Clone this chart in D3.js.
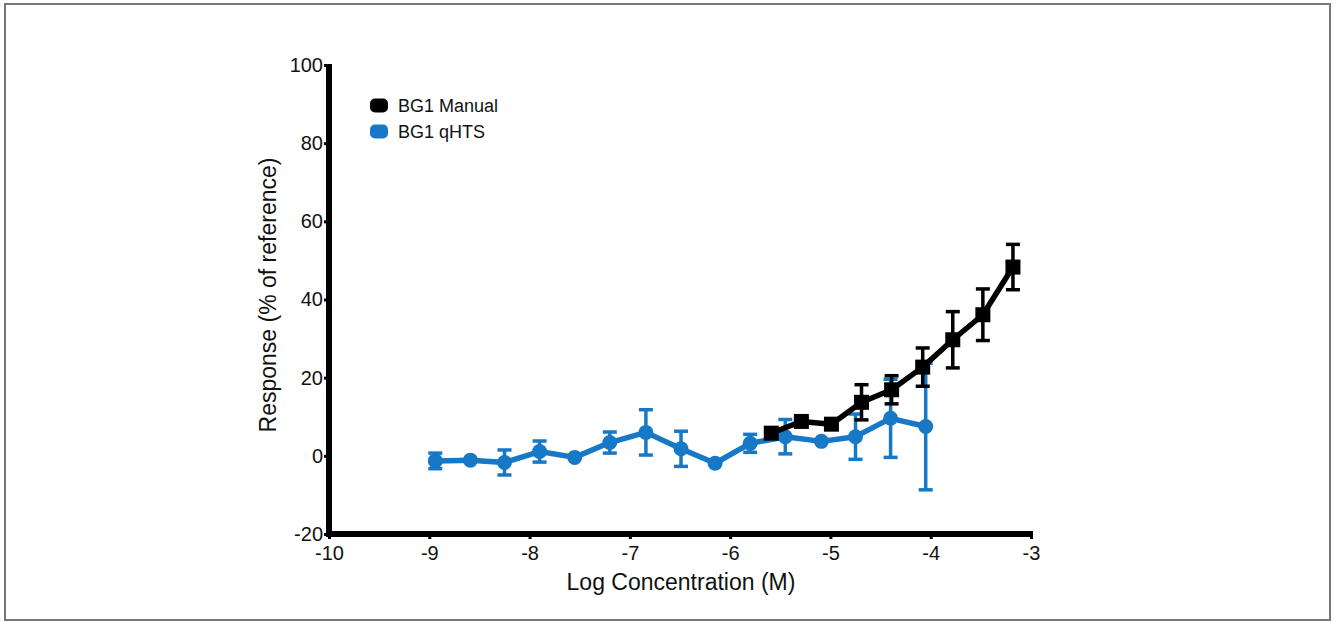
<!DOCTYPE html>
<html>
<head>
<meta charset="utf-8">
<script src="https://cdn.jsdelivr.net/npm/d3@7"></script>
<style>
  body { margin: 0; background: #fff; }
  svg { display: block; font-family: "Liberation Sans", Arial, sans-serif; }
</style>
</head>
<body>
<div id="chart"></div>
<script>
// data
const manualX = [-5.59, -5.29, -4.99, -4.69, -4.39, -4.08, -3.78, -3.48, -3.18];
const manualY = [5.8, 8.8, 8.1, 13.7, 16.9, 22.7, 29.7, 36.1, 48.3];
const manualErr = [0, 0.8, 0, 4.5, 3.6, 4.9, 7.2, 6.6, 5.8];

const qhtsX = [-8.94, -8.59, -8.25, -7.90, -7.55, -7.20, -6.84, -6.49, -6.15, -5.80, -5.45, -5.09, -4.75, -4.40, -4.05];
const qhtsY = [-1.3, -1.1, -1.7, 1.1, -0.4, 3.4, 6.0, 1.8, -1.9, 3.2, 4.9, 3.7, 4.9, 9.6, 7.5];
const qhtsErr = [2.0, 0, 3.2, 2.7, 0, 2.7, 5.8, 4.5, 0, 2.3, 4.4, 0, 5.8, 10, 16.2];

const xTicks = [-10, -9, -8, -7, -6, -5, -4, -3];
const yTicks = [-20, 0, 20, 40, 60, 80, 100];

const W = 1337, H = 622;
const blue = '#1778c6';

const svg = d3.select('#chart').append('svg')
  .attr('width', W).attr('height', H);

// frame round the figure
svg.append('rect')
  .attr('x', 5).attr('y', 4).attr('width', 1325).attr('height', 616)
  .attr('fill', 'none').attr('stroke', '#777').attr('stroke-width', 2);

const x = d3.scaleLinear().domain([-10, -3]).range([329, 1031]);
const y = d3.scaleLinear().domain([-20, 100]).range([534, 65]);

// axes (ticks + labels from d3, thick lines drawn on top)
const xAxis = svg.append('g').attr('transform', 'translate(0,534)')
  .call(d3.axisBottom(x).tickValues(xTicks).tickSize(5).tickSizeOuter(0)
    .tickFormat(d => String(d)));
const yAxis = svg.append('g').attr('transform', 'translate(329,0)')
  .call(d3.axisLeft(y).tickValues(yTicks).tickSize(5).tickSizeOuter(0)
    .tickFormat(d => String(d)));

[xAxis, yAxis].forEach(g => {
  g.select('.domain').remove();
  g.selectAll('.tick line').attr('stroke', '#000').attr('stroke-width', 3);
  g.selectAll('.tick text').attr('fill', '#111').style('font-size', '20px');
});
xAxis.selectAll('.tick text').attr('y', 10).attr('dy', '0.8em');
yAxis.selectAll('.tick text').attr('x', -6);

svg.append('line')
  .attr('x1', x(-10)).attr('x2', x(-3) + 2)
  .attr('y1', y(-20)).attr('y2', y(-20))
  .attr('stroke', '#000').attr('stroke-width', 6);
svg.append('line')
  .attr('x1', x(-10)).attr('x2', x(-10))
  .attr('y1', y(-20) + 3).attr('y2', y(100) - 1)
  .attr('stroke', '#000').attr('stroke-width', 6);

// axis titles
svg.append('text')
  .attr('x', 681).attr('y', 590)
  .attr('text-anchor', 'middle')
  .style('font-size', '23px').attr('fill', '#111')
  .text('Log Concentration (M)');

svg.append('text')
  .attr('transform', 'translate(276,295) rotate(-90)')
  .attr('text-anchor', 'middle')
  .style('font-size', '23px').attr('fill', '#111')
  .text('Response (% of reference)');

function drawSeries(xs, ys, errs, color, shape) {
  const pts = xs.map((v, i) => ({ x: v, y: ys[i], e: errs[i] }));
  const g = svg.append('g');

  // error bars
  const eb = g.selectAll('.eb').data(pts.filter(d => d.e > 0)).enter().append('g');
  eb.append('line')
    .attr('x1', d => x(d.x)).attr('x2', d => x(d.x))
    .attr('y1', d => y(d.y - d.e)).attr('y2', d => y(d.y + d.e))
    .attr('stroke', color).attr('stroke-width', 3.5);
  [-1, 1].forEach(s => {
    eb.append('line')
      .attr('x1', d => x(d.x) - 7).attr('x2', d => x(d.x) + 7)
      .attr('y1', d => y(d.y + s * d.e)).attr('y2', d => y(d.y + s * d.e))
      .attr('stroke', color).attr('stroke-width', 3.5);
  });

  const line = d3.line().x(d => x(d.x)).y(d => y(d.y));
  g.append('path').datum(pts)
    .attr('d', line).attr('fill', 'none')
    .attr('stroke', color).attr('stroke-width', 5.5)
    .attr('stroke-linejoin', 'round');

  if (shape === 'square') {
    g.selectAll('.m').data(pts).enter().append('rect')
      .attr('x', d => x(d.x) - 7.5).attr('y', d => y(d.y) - 7.5)
      .attr('width', 15).attr('height', 15).attr('fill', color);
  } else {
    g.selectAll('.m').data(pts).enter().append('circle')
      .attr('cx', d => x(d.x)).attr('cy', d => y(d.y))
      .attr('r', 7.5).attr('fill', color);
  }
}

drawSeries(qhtsX, qhtsY, qhtsErr, blue, 'circle');
drawSeries(manualX, manualY, manualErr, '#000', 'square');

// legend
const legend = [
  { name: 'BG1 Manual', color: '#000' },
  { name: 'BG1 qHTS', color: blue }
];
const lg = svg.append('g').selectAll('g').data(legend).enter().append('g')
  .attr('transform', (d, i) => 'translate(379,' + (105.5 + i * 26) + ')');
lg.append('rect')
  .attr('x', -9).attr('y', -7).attr('width', 18).attr('height', 14)
  .attr('rx', 5).attr('fill', d => d.color);
lg.append('text')
  .attr('x', 19).attr('y', 0).attr('dy', '0.36em')
  .style('font-size', '18px').attr('fill', '#111')
  .text(d => d.name);
</script>
</body>
</html>
